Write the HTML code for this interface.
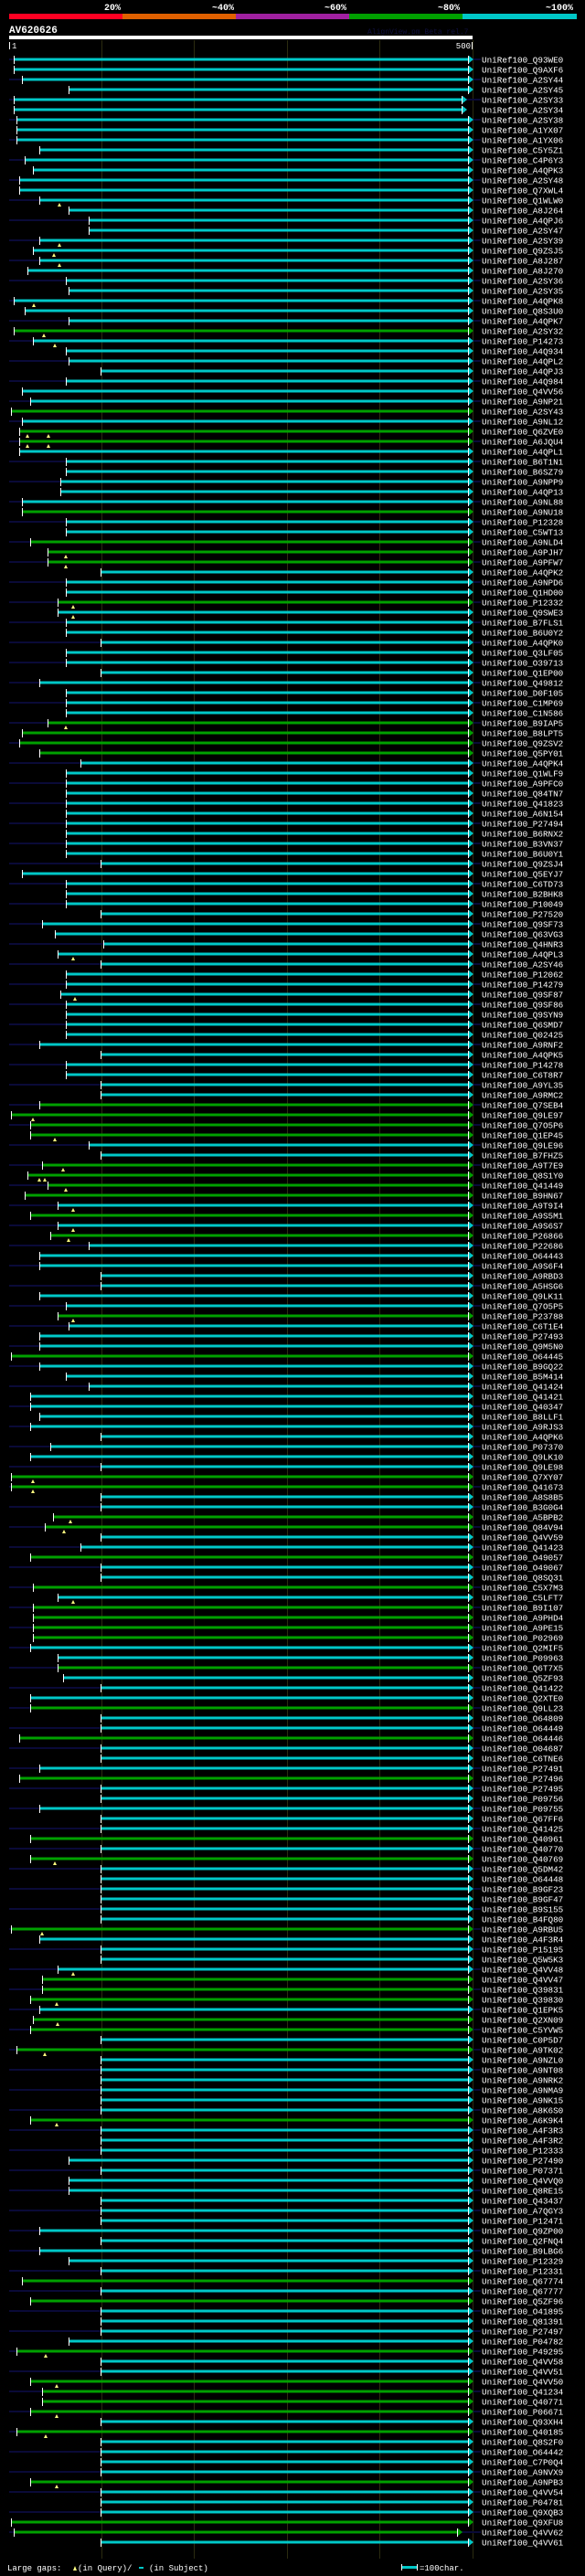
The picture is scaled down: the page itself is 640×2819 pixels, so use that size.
<!DOCTYPE html>
<html><head><meta charset="utf-8"><style>
html,body{margin:0;padding:0;background:#000;}
svg{display:block;}
text{font-family:"Liberation Mono","DejaVu Sans Mono",monospace;}
</style></head><body>
<svg id="chart" width="640" height="2819" viewBox="0 0 640 2819" xmlns="http://www.w3.org/2000/svg">
<rect x="0" y="0" width="640" height="2819" fill="#000"/>
<g>
<rect x="10" y="15" width="124" height="6" fill="#ff0022"/>
<rect x="134" y="15" width="124" height="6" fill="#e06000"/>
<rect x="258" y="15" width="124" height="6" fill="#a020a0"/>
<rect x="382" y="15" width="124" height="6" fill="#00a000"/>
<rect x="506" y="15" width="125" height="6" fill="#00c8c8"/>
<text x="123" y="11" fill="#fff" font-size="10" font-weight="bold" text-anchor="middle">20%</text>
<text x="244" y="11" fill="#fff" font-size="10" font-weight="bold" text-anchor="middle">~40%</text>
<text x="367" y="11" fill="#fff" font-size="10" font-weight="bold" text-anchor="middle">~60%</text>
<text x="491" y="11" fill="#fff" font-size="10" font-weight="bold" text-anchor="middle">~80%</text>
<text x="612" y="11" fill="#fff" font-size="10" font-weight="bold" text-anchor="middle">~100%</text>
</g>
<text x="10" y="36" fill="#fff" font-size="11" font-weight="bold">AV620626</text>
<text x="402" y="37" fill="#101040" font-size="8">AlignView.pm Beta rel.7</text>
<rect x="10" y="39" width="507" height="4" fill="#fff"/>
<rect x="10" y="46" width="1" height="8" fill="#fff"/>
<text x="13" y="53" fill="#fff" font-size="9">1</text>
<text x="515" y="53" fill="#fff" font-size="9" text-anchor="end">500</text>
<rect x="516" y="46" width="1" height="8" fill="#fff"/>
<g id="grid"></g>
<g id="rows"></g>
<g>
<text x="8" y="2813" fill="#fff" font-size="9">Large gaps:</text>
<polygon points="80,2813 82,2808 84,2813" fill="#ffff80"/>
<text x="85" y="2813" fill="#fff" font-size="9">(in Query)/</text>
<rect x="152" y="2809" width="5" height="2" fill="#00c8c8"/>
<text x="163" y="2813" fill="#fff" font-size="9">(in Subject)</text>
<rect x="440" y="2808" width="16" height="3" fill="#00c8c8"/>
<rect x="439" y="2806" width="1" height="7" fill="#fff"/>
<rect x="456" y="2806" width="1" height="7" fill="#fff"/>
<text x="459" y="2813" fill="#fff" font-size="9">=100char.</text>
</g>
</svg>
<script>
const labels = ["Q93WE0","Q9AXF6","A2SY44","A2SY45","A2SY33","A2SY34","A2SY38","A1YX07","A1YX06","C5Y5Z1",
"C4P6Y3","A4QPK3","A2SY48","Q7XWL4","Q1WLW0","A8J264","A4QPJ6","A2SY47","A2SY39","Q9ZSJ5",
"A8J287","A8J270","A2SY36","A2SY35","A4QPK8","Q8S3U0","A4QPK7","A2SY32","P14273","A4Q934",
"A4QPL2","A4QPJ3","A4Q984","Q4VV56","A9NP21","A2SY43","A9NL12","Q6ZVE0","A6JQU4","A4QPL1",
"B6T1N1","B6SZ79","A9NPP9","A4QP13","A9NL88","A9NU18","P12328","C5WT13","A9NLD4","A9PJH7",
"A9PFW7","A4QPK2","A9NPD6","Q1HD00","P12332","Q9SWE3","B7FLS1","B6U0Y2","A4QPK0","Q3LF05",
"O39713","Q1EP00","Q49812","D0F105","C1MP69","C1N586","B9IAP5","B8LPT5","Q9ZSV2","Q5PY01",
"A4QPK4","Q1WLF9","A9PFC0","Q84TN7","Q41823","A6N154","P27494","B6RNX2","B3VN37","B6U0Y1",
"Q9ZSJ4","Q5EYJ7","C6TD73","B2BHK8","P10049","P27520","Q9SF73","Q63VG3","Q4HNR3","A4QPL3",
"A2SY46","P12062","P14279","Q9SF87","Q9SF86","Q9SYN9","Q6SMD7","Q02425","A9RNF2","A4QPK5",
"P14278","C6T8R7","A9YL35","A9RMC2","Q7SEB4","Q9LE97","Q7O5P6","Q1EP45","Q9LE96","B7FHZ5",
"A9T7E9","Q8S1Y0","Q41449","B9HN67","A9T9I4","A9S5M1","A9S6S7","P26866","P22686","O64443",
"A9S6F4","A9RBD3","A5HSG6","Q9LK11","Q7O5P5","P23788","C6T1E4","P27493","Q9M5N0","O64445",
"B9GQ22","B5M414","Q41424","Q41421","Q40347","B8LLF1","A9RJS3","A4QPK6","P07370","Q9LK10",
"Q9LE98","Q7XY07","Q41673","A8S8B5","B3G0G4","A5BPB2","Q84V94","Q4VV59","Q41423","O49057",
"O49067","Q8SQ31","C5X7M3","C5LFT7","B9I107","A9PHD4","A9PE15","P02969","Q2MIF5","P09963",
"Q6T7X5","Q5ZF93","Q41422","Q2XTE0","Q9LL23","O64809","O64449","O64446","O04687","C6TNE6",
"P27491","P27496","P27495","P09756","P09755","Q67FF6","Q41425","Q40961","Q40770","Q40769",
"Q5DM42","O64448","B9GF23","B9GF47","B9S155","B4FQ80","A9RBU5","A4F3R4","P15195","Q5W5K3",
"Q4VV48","Q4VV47","Q39831","Q39830","Q1EPK5","Q2XN09","C5YVW5","C0P5D7","A9TK02","A9NZL0",
"A9NT08","A9NRK2","A9NMA9","A9NK15","A8K6S0","A6K9K4","A4F3R3","A4F3R2","P12333","P27490",
"P07371","Q4VVQ0","Q8RE15","Q43437","A7QGY3","P12471","Q9ZP00","Q2FNQ4","B9LBG6","P12329",
"P12331","Q67774","Q67777","Q5ZF96","O41895","Q81391","P27497","P04782","P49295","Q4VV58",
"Q4VV51","Q4VV50","Q41234","Q40771","P06671","Q93XH4","Q40185","Q8S2F0","O64442","C7P0Q4",
"A9NVX9","A9NPB3","Q4VV54","P04781","Q9XQB3","Q9XFU8","Q4VV62","Q4VV61"];
const starts = [6,6,15,65,6,6,9,9,9,33, 18,27,12,12,33,65,87,87,33,27, 33,21,62,65,6,18,65,6,27,62,
65,99,62,15,24,3,15,12,12,12, 62,62,56,56,15,15,62,62,24,42, 42,99,62,62,53,53,62,62,99,62,
62,99,33,62,62,62,42,15,12,33, 78,62,62,62,62,62,62,62,62,62, 99,15,62,
62,62,99,36,50,102,53,99,62,62, 56,62,62,62,62,33,99,62,62,99, 99,33,3,24,24,87,99,36,21,42,
18,53,24,53,45,87,33,33,99,99, 33,62,53,65,33,33,3,33,62,87, 24,24,33,24,99,45,24,99,3,3,
99,99,48,39,99,78,24,99,99,27, 53,27,27,27,27,24,53,53,59,99, 24,24,99,
99,12,99,99,33,12,99,99,33,99, 99,24,99,24,99,99,99,99,99,99, 3,33,99,99,53,36,36,24,33,27,
24,99,9,99,99,99,99,99,99,24, 99,99,99,65,99,65,65,99,99,99, 33,99,33,65,99,15,99,24,99,99,
99,65,9,99,99,24,36,36,24,99, 9,99,99,99,99,24,99,99,99,3, 6,99,99];
const shortEndRows = [4,5,246];
const shortEndVals = [493,493,488];
const greenRows = [27,35,37,38,45,48,49,50,54,66,67,68,69,104,105,106,107,110,111,112,113,115,117,125,129,141,142,145,146,149,152,154,155,156,157,160,164,167,171,177,179,186,191,192,193,195,196,198,205,221,223,228,231,232,233,234,236,241,245,246];
const gapRows = [14,18,19,20,24,27,28,37,37,38,38,49,50,54,55,66,89,93,105,107,110,111,111,112,114,116,117,125,141,142,145,146,153,179,186,190,193,195,198,205,228,231,234,236,241];
const gapPos = [55,55,49,55,28,38,50,21,43,21,43,62,62,70,70,62,70,72,27,50,59,33,39,62,70,70,65,70,27,27,67,60,70,50,36,70,52,53,39,52,40,52,52,40,52];
const ticks = [100,200,300,400,500];

const NS="http://www.w3.org/2000/svg";
const xS = r => 10 + (r-1)*507/499;
const yS = i => 65 + i*11;
function mk(tag, attrs, parent){const e=document.createElementNS(NS,tag);for(const k in attrs)e.setAttribute(k,attrs[k]);parent.appendChild(e);return e;}
const grid=document.getElementById('grid');
ticks.forEach(t=>{
  const l=mk('rect',{x:Math.round(xS(t)),y:44,width:1,height:2756,fill:'#2c2c10'},grid);
  
  
});
const rows=document.getElementById('rows');
const CY='#00c8c8', GR='#00a000';
const nRows = Math.min(labels.length, 249);
for(let i=0;i<nRows;i++){
  const lab=labels[i];
  const y=yS(i);
  const g=mk('g',{},rows);
  
  
  const col=greenRows.includes(i)?GR:CY;
  const st = (starts[i]!==undefined)?starts[i]:99;
  const k = shortEndRows.indexOf(i);
  const en = k>=0 ? shortEndVals[k] : 500;
  const x0=Math.round(xS(st)), x1=Math.round(xS(en));
  if(i%2===0){
    mk('rect',{x:10,y:y-1,width:Math.max(0,x0-10),height:2,fill:'#0a0a38'},g);
    mk('rect',{x:x1,y:y-1,width:Math.max(0,526-x1),height:2,fill:'#0a0a38'},g);
  }
  const bar=mk('rect',{x:x0,y:y-1.5,width:Math.max(0,x1-x0-4),height:3,fill:col},g);
  
  
  mk('rect',{x:x0,y:y-4,width:1,height:9,fill:'#fff'},g);
  mk('rect',{x:x1-5,y:y-4,width:1,height:9,fill:'#fff'},g);
  mk('polygon',{points:`${x1-4},${y-4} ${x1+1},${y} ${x1-4},${y+4}`,fill:col},g);
  const t=mk('text',{x:527,y:y+3.5,fill:'#fff','font-size':'9.3'},g);
  t.textContent='UniRef100_'+lab;
  
  
}
gapRows.forEach((r,k)=>{
  const x=Math.round(xS(gapPos[k])), y=yS(r);
  const m=mk('polygon',{points:`${x-2},${y+7} ${x},${y+3} ${x+2},${y+7}`,fill:'#ffff80'},rows);
  
  
});
</script>
</body></html>
